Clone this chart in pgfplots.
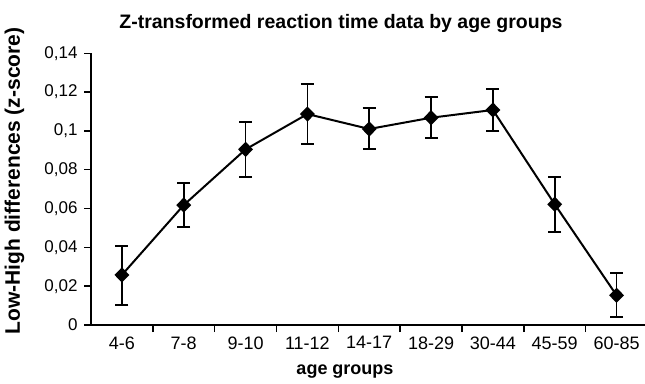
\documentclass[border=0pt]{standalone}
\usepackage{fontspec}
\setmainfont{Liberation Sans}
\usepackage{pgfplots}
\usepackage{pgfplotstable}
\pgfplotsset{compat=1.18}
\pgfplotstableread{
x y ep em
0 0.0258 0.0149 0.0155
1 0.0618 0.0112 0.0111
2 0.0905 0.0141 0.0141
3 0.1087 0.0153 0.0154
4 0.1010 0.0107 0.0105
5 0.1068 0.0105 0.0106
6 0.1108 0.0107 0.0108
7 0.0622 0.0139 0.0141
8 0.0153 0.0117 0.0113
}\rtdata
\begin{document}
\begin{tikzpicture}[x=1pt,y=1pt]
\path[use as bounding box] (0,0) rectangle (645,383);
\begin{axis}[
  at={(91pt,58pt)}, anchor=south west,
  scale only axis, width=554pt, height=271.7pt,
  xmin=-0.5, xmax=8.46, ymin=0, ymax=0.14,
  axis x line=bottom, axis y line=left,
  axis line style={-, line width=1.4pt},
  every outer x axis line/.append style={-},
  every outer y axis line/.append style={-},
  clip=false,
  xtick={0,1,2,3,4,5,6,7,8},
  xticklabels={4-6,7-8,9-10,11-12,14-17,18-29,30-44,45-59,60-85},
  major x tick style={draw=none},
  minor xtick={0.5,1.5,2.5,3.5,4.5,5.5,6.5,7.5},
  ytick={0,0.02,0.04,0.06,0.08,0.1,0.12,0.14},
  tick align=outside, tick pos=left,
  major tick length=7pt, minor tick length=7pt,
  tick style={line width=1.4pt, black},
  scaled y ticks=false,
  /pgf/number format/use comma,
  /pgf/number format/fixed,
  /pgf/number format/precision=2,
  /pgf/number format/assume math mode=true,
  xticklabel style={font=\fontsize{18}{21}\selectfont, yshift=-1pt},
  yticklabel style={font=\fontsize{17}{20}\selectfont, xshift=-3pt},
  error bars/error bar style={line width=1.8pt, black},
  error bars/error mark options={rotate=90, mark size=6.5pt, line width=1.8pt, black},
]
\addplot[black, line width=2pt, mark=diamond*, mark size=6.2pt,
  mark options={xscale=1.3, solid},
  error bars/.cd, y dir=both, y explicit]
  table[x=x, y=y, y error plus=ep, y error minus=em] {\rtdata};
\end{axis}
\node[anchor=base, font=\bfseries\fontsize{19.5}{23}\selectfont] at (341,354) {Z-transformed reaction time data by age groups};
\node[anchor=base, font=\bfseries\fontsize{18}{21}\selectfont] at (345,9) {age groups};
\node[anchor=base, rotate=90, font=\bfseries\fontsize{21}{24}\selectfont] at (20,202) {Low-High differences (z-score)};
\end{tikzpicture}
\end{document}
